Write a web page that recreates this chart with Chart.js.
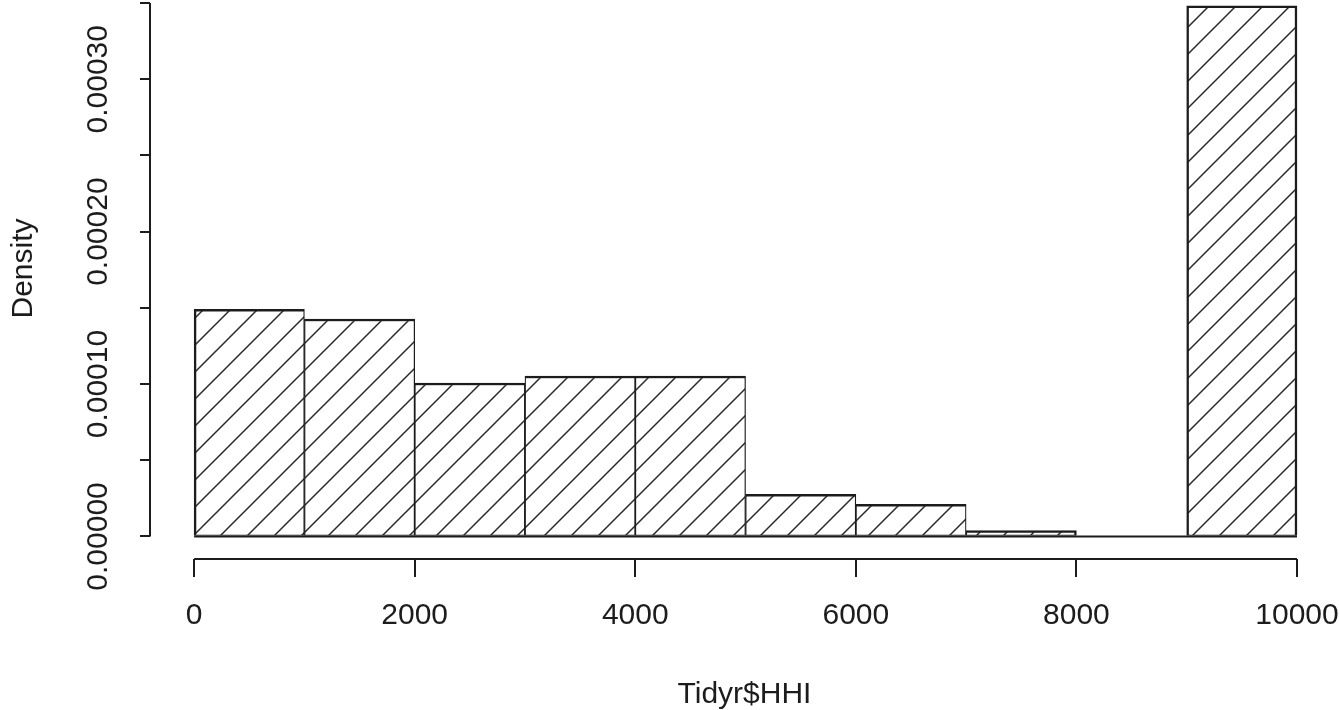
<!DOCTYPE html>
<html>
<head>
<meta charset="utf-8">
<script src="https://cdn.jsdelivr.net/npm/chart.js@4.4.1/dist/chart.umd.min.js"></script>
<style>
  html, body { margin: 0; padding: 0; background: #fff; }
  #chart { display: block; }
</style>
</head>
<body>
<canvas id="chart" width="1339" height="710"></canvas>
<script>
// histogram of Tidyr$HHI on the density scale, base R look
const binEdges = [0, 1000, 2000, 3000, 4000, 5000, 6000, 7000, 8000, 9000, 10000];
const densities = [0.000149, 0.0001427, 0.0001007, 0.0001053, 0.0001053, 0.0000277, 0.0000211, 0.0000038, 0, 0.0003481];
const xTicks = [0, 2000, 4000, 6000, 8000, 10000];
const xTickLabels = ["0", "2000", "4000", "6000", "8000", "10000"];
const yTicks = [0, 0.00005, 0.0001, 0.00015, 0.0002, 0.00025, 0.0003, 0.00035];
// R drops every other label because they would overlap
const yTickLabels = ["0.00000", "", "0.00010", "", "0.00020", "", "0.00030", ""];
const xTitle = "Tidyr$HHI";
const yTitle = "Density";

const ink = "#1c1c1c";
const fontFamily = "Arial, 'Liberation Sans', sans-serif";

// hatch tile for the bars (45 degree lines like density= in hist())
const makeHatch = () => {
  const size = 27;
  const tile = document.createElement("canvas");
  tile.width = size;
  tile.height = size;
  const c = tile.getContext("2d");
  c.fillStyle = "#fff";
  c.fillRect(0, 0, size, size);
  c.strokeStyle = "#2a2a2a";
  c.lineWidth = 1.5;
  c.beginPath();
  c.moveTo(-2, size + 2);
  c.lineTo(size + 2, -2);
  c.moveTo(-2, 2);
  c.lineTo(2, -2);
  c.moveTo(size - 2, size + 2);
  c.lineTo(size + 2, size - 2);
  c.stroke();
  return document.getElementById("chart").getContext("2d").createPattern(tile, "repeat");
};

// neighbouring bars share an edge, so each one draws half of it
// (full width when there is no neighbour or it is empty)
const barBorder = (ctx) => {
  const i = ctx.dataIndex;
  const alone = (j) => j < 0 || j >= densities.length || !densities[j];
  return {
    top: 2.5,
    bottom: 1,
    left: alone(i - 1) ? 2.5 : 1.25,
    right: alone(i + 1) ? 2.5 : 1.25,
  };
};

// axis lines only between first and last tick, rotated y labels
const rAxes = {
  id: "rAxes",
  afterDraw(chart) {
    const { ctx, chartArea, scales: { x, y } } = chart;
    ctx.save();
    ctx.strokeStyle = ink;
    ctx.lineWidth = 2;
    ctx.beginPath();
    ctx.moveTo(x.getPixelForValue(xTicks[0]), chartArea.bottom);
    ctx.lineTo(x.getPixelForValue(xTicks[xTicks.length - 1]), chartArea.bottom);
    ctx.moveTo(chartArea.left, y.getPixelForValue(yTicks[0]));
    ctx.lineTo(chartArea.left, y.getPixelForValue(yTicks[yTicks.length - 1]));
    // bottom edge of the bins (the empty bin still has one)
    ctx.moveTo(x.getPixelForValue(binEdges[0]), y.getPixelForValue(0));
    ctx.lineTo(x.getPixelForValue(binEdges[binEdges.length - 1]), y.getPixelForValue(0));
    ctx.stroke();

    ctx.fillStyle = ink;
    ctx.font = "30px " + fontFamily;
    ctx.textAlign = "center";
    ctx.textBaseline = "alphabetic";
    yTicks.forEach((v, i) => {
      if (!yTickLabels[i]) return;
      ctx.save();
      ctx.translate(chartArea.left - 43, y.getPixelForValue(v));
      ctx.rotate(-Math.PI / 2);
      ctx.fillText(yTickLabels[i], 0, 0);
      ctx.restore();
    });
    ctx.save();
    ctx.translate(32, (chartArea.top + chartArea.bottom) / 2 - 11);
    ctx.rotate(-Math.PI / 2);
    ctx.fillText(yTitle, 0, 0);
    ctx.restore();
    ctx.restore();
  },
};

new Chart(document.getElementById("chart"), {
  type: "bar",
  data: {
    datasets: [
      {
        data: densities.map((d, i) => ({ x: (binEdges[i] + binEdges[i + 1]) / 2, y: d })),
        backgroundColor: makeHatch(),
        borderColor: ink,
        borderWidth: barBorder,
        borderSkipped: false,
        barPercentage: 1,
        categoryPercentage: 1,
      },
    ],
  },
  options: {
    responsive: false,
    animation: false,
    events: [],
    layout: { padding: 0 },
    plugins: { legend: { display: false }, tooltip: { enabled: false } },
    scales: {
      x: {
        type: "linear",
        min: -400,
        max: 10381,
        offset: false,
        grid: { drawOnChartArea: false, drawTicks: true, tickLength: 18, color: ink, lineWidth: 2, offset: false },
        border: { display: false },
        ticks: {
          font: { size: 30, family: fontFamily },
          color: ink,
          padding: 21,
          maxRotation: 0,
          autoSkip: false,
          callback: (v) => xTickLabels[xTicks.indexOf(v)],
        },
        afterBuildTicks: (s) => {
          s.ticks = xTicks.map((v) => ({ value: v }));
        },
        afterFit: (s) => {
          s.height = 151;
          s.paddingLeft = 0;
          s.paddingRight = 0;
        },
        title: {
          display: true,
          text: xTitle,
          font: { size: 30, family: fontFamily, lineHeight: 1 },
          color: ink,
          padding: 0,
        },
      },
      y: {
        min: -0.0000148,
        max: 0.000352,
        grid: { drawOnChartArea: false, tickLength: 10, color: ink, lineWidth: 2 },
        border: { display: false },
        ticks: { display: false },
        afterBuildTicks: (s) => {
          s.ticks = yTicks.map((v) => ({ value: v }));
        },
        afterFit: (s) => {
          s.width = 150;
        },
      },
    },
  },
  plugins: [rAxes],
});
</script>
</body>
</html>
